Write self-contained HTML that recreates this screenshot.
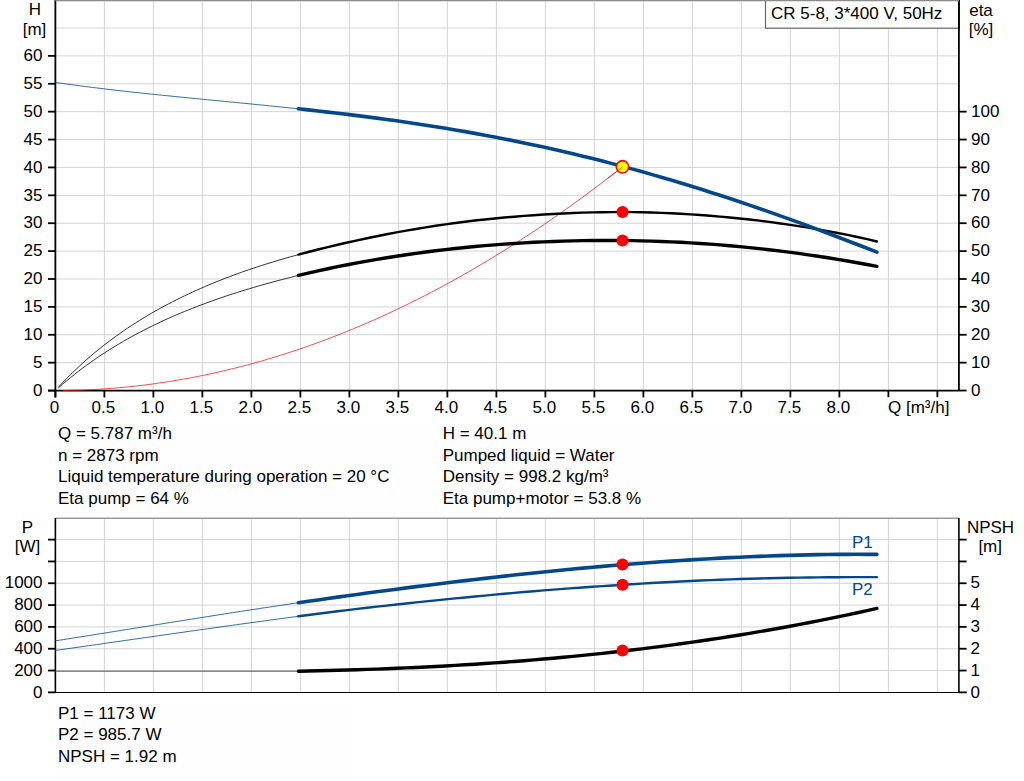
<!DOCTYPE html>
<html><head><meta charset="utf-8"><title>Pump curve</title>
<style>
html,body{margin:0;padding:0;background:#fff;width:1024px;height:781px;overflow:hidden}
svg{display:block}
text{font-family:"Liberation Sans", sans-serif;font-size:17px;fill:#000}
</style></head><body>
<svg width="1024" height="781" viewBox="0 0 1024 781">
<line x1="104.38" y1="0" x2="104.38" y2="390.55" stroke="#d3d4d8" stroke-width="1"/>
<line x1="153.38" y1="0" x2="153.38" y2="390.55" stroke="#d3d4d8" stroke-width="1"/>
<line x1="202.38" y1="0" x2="202.38" y2="390.55" stroke="#d3d4d8" stroke-width="1"/>
<line x1="251.38" y1="0" x2="251.38" y2="390.55" stroke="#d3d4d8" stroke-width="1"/>
<line x1="300.38" y1="0" x2="300.38" y2="390.55" stroke="#d3d4d8" stroke-width="1"/>
<line x1="349.38" y1="0" x2="349.38" y2="390.55" stroke="#d3d4d8" stroke-width="1"/>
<line x1="398.38" y1="0" x2="398.38" y2="390.55" stroke="#d3d4d8" stroke-width="1"/>
<line x1="447.38" y1="0" x2="447.38" y2="390.55" stroke="#d3d4d8" stroke-width="1"/>
<line x1="496.38" y1="0" x2="496.38" y2="390.55" stroke="#d3d4d8" stroke-width="1"/>
<line x1="545.38" y1="0" x2="545.38" y2="390.55" stroke="#d3d4d8" stroke-width="1"/>
<line x1="594.38" y1="0" x2="594.38" y2="390.55" stroke="#d3d4d8" stroke-width="1"/>
<line x1="643.38" y1="0" x2="643.38" y2="390.55" stroke="#d3d4d8" stroke-width="1"/>
<line x1="692.38" y1="0" x2="692.38" y2="390.55" stroke="#d3d4d8" stroke-width="1"/>
<line x1="741.38" y1="0" x2="741.38" y2="390.55" stroke="#d3d4d8" stroke-width="1"/>
<line x1="790.38" y1="0" x2="790.38" y2="390.55" stroke="#d3d4d8" stroke-width="1"/>
<line x1="839.38" y1="0" x2="839.38" y2="390.55" stroke="#d3d4d8" stroke-width="1"/>
<line x1="888.38" y1="0" x2="888.38" y2="390.55" stroke="#d3d4d8" stroke-width="1"/>
<line x1="937.38" y1="0" x2="937.38" y2="390.55" stroke="#d3d4d8" stroke-width="1"/>
<line x1="55.38" y1="362.66" x2="958.9" y2="362.66" stroke="#d3d4d8" stroke-width="1"/>
<line x1="55.38" y1="334.77" x2="958.9" y2="334.77" stroke="#d3d4d8" stroke-width="1"/>
<line x1="55.38" y1="306.88" x2="958.9" y2="306.88" stroke="#d3d4d8" stroke-width="1"/>
<line x1="55.38" y1="278.99" x2="958.9" y2="278.99" stroke="#d3d4d8" stroke-width="1"/>
<line x1="55.38" y1="251.10" x2="958.9" y2="251.10" stroke="#d3d4d8" stroke-width="1"/>
<line x1="55.38" y1="223.21" x2="958.9" y2="223.21" stroke="#d3d4d8" stroke-width="1"/>
<line x1="55.38" y1="195.32" x2="958.9" y2="195.32" stroke="#d3d4d8" stroke-width="1"/>
<line x1="55.38" y1="167.43" x2="958.9" y2="167.43" stroke="#d3d4d8" stroke-width="1"/>
<line x1="55.38" y1="139.54" x2="958.9" y2="139.54" stroke="#d3d4d8" stroke-width="1"/>
<line x1="55.38" y1="111.65" x2="958.9" y2="111.65" stroke="#d3d4d8" stroke-width="1"/>
<line x1="55.38" y1="83.76" x2="958.9" y2="83.76" stroke="#d3d4d8" stroke-width="1"/>
<line x1="55.38" y1="55.87" x2="958.9" y2="55.87" stroke="#d3d4d8" stroke-width="1"/>
<line x1="55.38" y1="27.98" x2="958.9" y2="27.98" stroke="#d3d4d8" stroke-width="1"/>
<line x1="55.38" y1="0" x2="55.38" y2="397.55" stroke="#000" stroke-width="1.8"/>
<line x1="958.9" y1="0" x2="958.9" y2="390.55" stroke="#000" stroke-width="1.8"/>
<line x1="48" y1="390.55" x2="958.9" y2="390.55" stroke="#000" stroke-width="1.8"/>
<line x1="48" y1="390.55" x2="55.38" y2="390.55" stroke="#000" stroke-width="1.8"/>
<text x="42.5" y="395.75" text-anchor="end">0</text>
<line x1="48" y1="362.66" x2="55.38" y2="362.66" stroke="#000" stroke-width="1.8"/>
<text x="42.5" y="367.86" text-anchor="end">5</text>
<line x1="48" y1="334.77" x2="55.38" y2="334.77" stroke="#000" stroke-width="1.8"/>
<text x="42.5" y="339.97" text-anchor="end">10</text>
<line x1="48" y1="306.88" x2="55.38" y2="306.88" stroke="#000" stroke-width="1.8"/>
<text x="42.5" y="312.08" text-anchor="end">15</text>
<line x1="48" y1="278.99" x2="55.38" y2="278.99" stroke="#000" stroke-width="1.8"/>
<text x="42.5" y="284.19" text-anchor="end">20</text>
<line x1="48" y1="251.10" x2="55.38" y2="251.10" stroke="#000" stroke-width="1.8"/>
<text x="42.5" y="256.30" text-anchor="end">25</text>
<line x1="48" y1="223.21" x2="55.38" y2="223.21" stroke="#000" stroke-width="1.8"/>
<text x="42.5" y="228.41" text-anchor="end">30</text>
<line x1="48" y1="195.32" x2="55.38" y2="195.32" stroke="#000" stroke-width="1.8"/>
<text x="42.5" y="200.52" text-anchor="end">35</text>
<line x1="48" y1="167.43" x2="55.38" y2="167.43" stroke="#000" stroke-width="1.8"/>
<text x="42.5" y="172.63" text-anchor="end">40</text>
<line x1="48" y1="139.54" x2="55.38" y2="139.54" stroke="#000" stroke-width="1.8"/>
<text x="42.5" y="144.74" text-anchor="end">45</text>
<line x1="48" y1="111.65" x2="55.38" y2="111.65" stroke="#000" stroke-width="1.8"/>
<text x="42.5" y="116.85" text-anchor="end">50</text>
<line x1="48" y1="83.76" x2="55.38" y2="83.76" stroke="#000" stroke-width="1.8"/>
<text x="42.5" y="88.96" text-anchor="end">55</text>
<line x1="48" y1="55.87" x2="55.38" y2="55.87" stroke="#000" stroke-width="1.8"/>
<text x="42.5" y="61.07" text-anchor="end">60</text>
<line x1="958.9" y1="390.55" x2="966.6" y2="390.55" stroke="#000" stroke-width="1.8"/>
<text x="971" y="395.75">0</text>
<line x1="958.9" y1="362.66" x2="966.6" y2="362.66" stroke="#000" stroke-width="1.8"/>
<text x="971" y="367.86">10</text>
<line x1="958.9" y1="334.77" x2="966.6" y2="334.77" stroke="#000" stroke-width="1.8"/>
<text x="971" y="339.97">20</text>
<line x1="958.9" y1="306.88" x2="966.6" y2="306.88" stroke="#000" stroke-width="1.8"/>
<text x="971" y="312.08">30</text>
<line x1="958.9" y1="278.99" x2="966.6" y2="278.99" stroke="#000" stroke-width="1.8"/>
<text x="971" y="284.19">40</text>
<line x1="958.9" y1="251.10" x2="966.6" y2="251.10" stroke="#000" stroke-width="1.8"/>
<text x="971" y="256.30">50</text>
<line x1="958.9" y1="223.21" x2="966.6" y2="223.21" stroke="#000" stroke-width="1.8"/>
<text x="971" y="228.41">60</text>
<line x1="958.9" y1="195.32" x2="966.6" y2="195.32" stroke="#000" stroke-width="1.8"/>
<text x="971" y="200.52">70</text>
<line x1="958.9" y1="167.43" x2="966.6" y2="167.43" stroke="#000" stroke-width="1.8"/>
<text x="971" y="172.63">80</text>
<line x1="958.9" y1="139.54" x2="966.6" y2="139.54" stroke="#000" stroke-width="1.8"/>
<text x="971" y="144.74">90</text>
<line x1="958.9" y1="111.65" x2="966.6" y2="111.65" stroke="#000" stroke-width="1.8"/>
<text x="971" y="116.85">100</text>
<line x1="55.38" y1="390.55" x2="55.38" y2="397.4" stroke="#000" stroke-width="1.8"/>
<text x="54.38" y="413" text-anchor="middle">0</text>
<line x1="104.38" y1="390.55" x2="104.38" y2="397.4" stroke="#000" stroke-width="1.8"/>
<text x="103.38" y="413" text-anchor="middle">0.5</text>
<line x1="153.38" y1="390.55" x2="153.38" y2="397.4" stroke="#000" stroke-width="1.8"/>
<text x="152.38" y="413" text-anchor="middle">1.0</text>
<line x1="202.38" y1="390.55" x2="202.38" y2="397.4" stroke="#000" stroke-width="1.8"/>
<text x="201.38" y="413" text-anchor="middle">1.5</text>
<line x1="251.38" y1="390.55" x2="251.38" y2="397.4" stroke="#000" stroke-width="1.8"/>
<text x="250.38" y="413" text-anchor="middle">2.0</text>
<line x1="300.38" y1="390.55" x2="300.38" y2="397.4" stroke="#000" stroke-width="1.8"/>
<text x="299.38" y="413" text-anchor="middle">2.5</text>
<line x1="349.38" y1="390.55" x2="349.38" y2="397.4" stroke="#000" stroke-width="1.8"/>
<text x="348.38" y="413" text-anchor="middle">3.0</text>
<line x1="398.38" y1="390.55" x2="398.38" y2="397.4" stroke="#000" stroke-width="1.8"/>
<text x="397.38" y="413" text-anchor="middle">3.5</text>
<line x1="447.38" y1="390.55" x2="447.38" y2="397.4" stroke="#000" stroke-width="1.8"/>
<text x="446.38" y="413" text-anchor="middle">4.0</text>
<line x1="496.38" y1="390.55" x2="496.38" y2="397.4" stroke="#000" stroke-width="1.8"/>
<text x="495.38" y="413" text-anchor="middle">4.5</text>
<line x1="545.38" y1="390.55" x2="545.38" y2="397.4" stroke="#000" stroke-width="1.8"/>
<text x="544.38" y="413" text-anchor="middle">5.0</text>
<line x1="594.38" y1="390.55" x2="594.38" y2="397.4" stroke="#000" stroke-width="1.8"/>
<text x="593.38" y="413" text-anchor="middle">5.5</text>
<line x1="643.38" y1="390.55" x2="643.38" y2="397.4" stroke="#000" stroke-width="1.8"/>
<text x="642.38" y="413" text-anchor="middle">6.0</text>
<line x1="692.38" y1="390.55" x2="692.38" y2="397.4" stroke="#000" stroke-width="1.8"/>
<text x="691.38" y="413" text-anchor="middle">6.5</text>
<line x1="741.38" y1="390.55" x2="741.38" y2="397.4" stroke="#000" stroke-width="1.8"/>
<text x="740.38" y="413" text-anchor="middle">7.0</text>
<line x1="790.38" y1="390.55" x2="790.38" y2="397.4" stroke="#000" stroke-width="1.8"/>
<text x="789.38" y="413" text-anchor="middle">7.5</text>
<line x1="839.38" y1="390.55" x2="839.38" y2="397.4" stroke="#000" stroke-width="1.8"/>
<text x="838.38" y="413" text-anchor="middle">8.0</text>
<line x1="888.38" y1="390.55" x2="888.38" y2="397.4" stroke="#000" stroke-width="1.8"/>
<line x1="937.38" y1="390.55" x2="937.38" y2="397.4" stroke="#000" stroke-width="1.8"/>
<rect x="886" y="397.5" width="70" height="21" fill="#fefefe"/>
<text x="888" y="413">Q [m³/h]</text>
<text x="35" y="15.3" text-anchor="middle">H</text>
<text x="34.5" y="34.5" text-anchor="middle">[m]</text>
<text x="981" y="15.7" text-anchor="middle">eta</text>
<text x="981" y="34.5" text-anchor="middle">[%]</text>
<rect x="765.5" y="-1" width="193.40" height="29.2" fill="#fff" stroke="#666" stroke-width="1.2"/>
<line x1="958.9" y1="0" x2="958.9" y2="30" stroke="#000" stroke-width="1.8"/>
<text x="771" y="19">CR 5-8, 3*400 V, 50Hz</text>
<line x1="55.38" y1="0.5" x2="958.9" y2="0.5" stroke="#8c8c8c" stroke-width="1.5"/>
<path d="M63.22,390.51 L70.30,390.40 L77.38,390.21 L84.46,389.96 L91.54,389.64 L98.62,389.25 L105.70,388.79 L112.78,388.26 L119.86,387.66 L126.94,386.99 L134.02,386.25 L141.10,385.44 L148.17,384.56 L155.25,383.61 L162.33,382.59 L169.41,381.51 L176.49,380.35 L183.57,379.12 L190.65,377.82 L197.73,376.46 L204.81,375.02 L211.89,373.51 L218.97,371.94 L226.05,370.29 L233.13,368.58 L240.21,366.79 L247.29,364.94 L254.37,363.01 L261.45,361.02 L268.53,358.95 L275.61,356.82 L282.69,354.62 L289.77,352.34 L296.85,350.00 L303.93,347.59 L311.00,345.11 L318.08,342.55 L325.16,339.93 L332.24,337.24 L339.32,334.48 L346.40,331.65 L353.48,328.75 L360.56,325.78 L367.64,322.74 L374.72,319.63 L381.80,316.45 L388.88,313.20 L395.96,309.88 L403.04,306.49 L410.12,303.04 L417.20,299.51 L424.28,295.91 L431.36,292.24 L438.44,288.51 L445.52,284.70 L452.60,280.82 L459.68,276.88 L466.76,272.86 L473.84,268.77 L480.91,264.62 L487.99,260.39 L495.07,256.10 L502.15,251.73 L509.23,247.30 L516.31,242.80 L523.39,238.22 L530.47,233.58 L537.55,228.87 L544.63,224.08 L551.71,219.23 L558.79,214.31 L565.87,209.32 L572.95,204.26 L580.03,199.12 L587.11,193.92 L594.19,188.65 L601.27,183.31 L608.35,177.90 L615.43,172.42 L622.51,166.87" fill="none" stroke="#ff1010" stroke-width="0.75"/>
<path d="M58.32,387.32 L62.39,382.97 L66.46,378.76 L70.53,374.67 L74.60,370.70 L78.67,366.85 L82.74,363.10 L86.81,359.47 L90.88,355.94 L94.95,352.51 L99.01,349.17 L103.08,345.92 L107.15,342.76 L111.22,339.69 L115.29,336.70 L119.36,333.79 L123.43,330.95 L127.50,328.18 L131.57,325.49 L135.64,322.86 L139.71,320.30 L143.78,317.80 L147.85,315.36 L151.92,312.98 L155.99,310.66 L160.06,308.40 L164.13,306.18 L168.20,304.02 L172.27,301.91 L176.34,299.84 L180.40,297.83 L184.47,295.85 L188.54,293.93 L192.61,292.04 L196.68,290.20 L200.75,288.39 L204.82,286.63 L208.89,284.90 L212.96,283.21 L217.03,281.55 L221.10,279.93 L225.17,278.34 L229.24,276.79 L233.31,275.27 L237.38,273.78 L241.45,272.32 L245.52,270.88 L249.59,269.48 L253.66,268.11 L257.73,266.76 L261.79,265.44 L265.86,264.15 L269.93,262.88 L274.00,261.63 L278.07,260.41 L282.14,259.21 L286.21,258.03 L290.28,256.87 L294.35,255.74 L298.42,254.62" fill="none" stroke="#333" stroke-width="1"/>
<path d="M298.42,254.62 L308.22,252.01 L318.03,249.50 L327.83,247.09 L337.64,244.76 L347.44,242.52 L357.25,240.35 L367.05,238.26 L376.86,236.24 L386.66,234.30 L396.47,232.43 L406.27,230.65 L416.08,228.95 L425.88,227.33 L435.69,225.80 L445.49,224.35 L455.30,223.00 L465.10,221.74 L474.91,220.56 L484.71,219.47 L494.52,218.46 L504.32,217.53 L514.13,216.68 L523.93,215.89 L533.74,215.18 L543.54,214.54 L553.35,213.96 L563.15,213.46 L572.96,213.03 L582.76,212.67 L592.57,212.39 L602.37,212.19 L612.18,212.08 L621.98,212.05 L631.79,212.12 L641.59,212.27 L651.40,212.52 L661.20,212.85 L671.01,213.27 L680.81,213.77 L690.62,214.35 L700.42,215.02 L710.23,215.77 L720.03,216.59 L729.84,217.50 L739.64,218.48 L749.45,219.54 L759.25,220.68 L769.06,221.90 L778.86,223.21 L788.67,224.60 L798.47,226.08 L808.28,227.66 L818.08,229.33 L827.89,231.10 L837.69,232.97 L847.50,234.94 L857.30,237.02 L867.11,239.20 L876.91,241.48" fill="none" stroke="#000" stroke-width="2.4" stroke-linecap="round"/>
<path d="M58.32,387.93 L62.39,384.39 L66.46,380.94 L70.53,377.59 L74.60,374.34 L78.67,371.17 L82.74,368.08 L86.81,365.08 L90.88,362.15 L94.95,359.30 L99.01,356.53 L103.08,353.83 L107.15,351.19 L111.22,348.62 L115.29,346.12 L119.36,343.68 L123.43,341.29 L127.50,338.97 L131.57,336.70 L135.64,334.48 L139.71,332.32 L143.78,330.20 L147.85,328.14 L151.92,326.12 L155.99,324.15 L160.06,322.22 L164.13,320.34 L168.20,318.49 L172.27,316.69 L176.34,314.93 L180.40,313.20 L184.47,311.51 L188.54,309.86 L192.61,308.24 L196.68,306.65 L200.75,305.09 L204.82,303.57 L208.89,302.08 L212.96,300.61 L217.03,299.18 L221.10,297.77 L225.17,296.39 L229.24,295.04 L233.31,293.71 L237.38,292.41 L241.45,291.13 L245.52,289.87 L249.59,288.64 L253.66,287.43 L257.73,286.24 L261.79,285.07 L265.86,283.92 L269.93,282.80 L274.00,281.69 L278.07,280.60 L282.14,279.54 L286.21,278.49 L290.28,277.46 L294.35,276.44 L298.42,275.45" fill="none" stroke="#333" stroke-width="1"/>
<path d="M298.42,275.45 L308.22,273.12 L318.03,270.89 L327.83,268.76 L337.64,266.71 L347.44,264.76 L357.25,262.89 L367.05,261.10 L376.86,259.40 L386.66,257.77 L396.47,256.22 L406.27,254.75 L416.08,253.36 L425.88,252.04 L435.69,250.80 L445.49,249.63 L455.30,248.53 L465.10,247.51 L474.91,246.56 L484.71,245.67 L494.52,244.86 L504.32,244.12 L514.13,243.45 L523.93,242.84 L533.74,242.30 L543.54,241.83 L553.35,241.43 L563.15,241.10 L572.96,240.83 L582.76,240.63 L592.57,240.50 L602.37,240.43 L612.18,240.43 L621.98,240.50 L631.79,240.63 L641.59,240.83 L651.40,241.10 L661.20,241.43 L671.01,241.84 L680.81,242.31 L690.62,242.85 L700.42,243.46 L710.23,244.14 L720.03,244.89 L729.84,245.71 L739.64,246.61 L749.45,247.57 L759.25,248.60 L769.06,249.71 L778.86,250.88 L788.67,252.12 L798.47,253.43 L808.28,254.81 L818.08,256.26 L827.89,257.77 L837.69,259.35 L847.50,260.99 L857.30,262.71 L867.11,264.48 L876.91,266.32" fill="none" stroke="#000" stroke-width="3.4" stroke-linecap="round"/>
<path d="M55.38,82.41 L59.50,83.01 L63.62,83.59 L67.74,84.17 L71.86,84.73 L75.98,85.29 L80.10,85.83 L84.22,86.37 L88.33,86.90 L92.45,87.42 L96.57,87.93 L100.69,88.43 L104.81,88.93 L108.93,89.42 L113.05,89.90 L117.17,90.38 L121.29,90.85 L125.41,91.31 L129.53,91.77 L133.65,92.22 L137.77,92.67 L141.89,93.11 L146.01,93.55 L150.12,93.98 L154.24,94.41 L158.36,94.84 L162.48,95.26 L166.60,95.68 L170.72,96.10 L174.84,96.51 L178.96,96.92 L183.08,97.33 L187.20,97.74 L191.32,98.15 L195.44,98.55 L199.56,98.95 L203.68,99.35 L207.79,99.76 L211.91,100.16 L216.03,100.56 L220.15,100.96 L224.27,101.36 L228.39,101.76 L232.51,102.16 L236.63,102.56 L240.75,102.96 L244.87,103.37 L248.99,103.77 L253.11,104.18 L257.23,104.59 L261.35,105.00 L265.47,105.41 L269.58,105.83 L273.70,106.25 L277.82,106.67 L281.94,107.10 L286.06,107.52 L290.18,107.96 L294.30,108.39 L298.42,108.83" fill="none" stroke="#04478a" stroke-width="1" stroke-opacity="0.8"/>
<path d="M298.42,108.83 L308.22,109.89 L318.03,110.98 L327.83,112.09 L337.64,113.23 L347.44,114.41 L357.25,115.61 L367.05,116.86 L376.86,118.14 L386.66,119.46 L396.47,120.82 L406.27,122.22 L416.08,123.67 L425.88,125.17 L435.69,126.71 L445.49,128.30 L455.30,129.93 L465.10,131.62 L474.91,133.37 L484.71,135.16 L494.52,137.01 L504.32,138.91 L514.13,140.87 L523.93,142.89 L533.74,144.96 L543.54,147.09 L553.35,149.27 L563.15,151.52 L572.96,153.82 L582.76,156.18 L592.57,158.60 L602.37,161.08 L612.18,163.62 L621.98,166.22 L631.79,168.87 L641.59,171.59 L651.40,174.36 L661.20,177.19 L671.01,180.07 L680.81,183.01 L690.62,186.01 L700.42,189.06 L710.23,192.17 L720.03,195.33 L729.84,198.54 L739.64,201.81 L749.45,205.12 L759.25,208.48 L769.06,211.89 L778.86,215.35 L788.67,218.85 L798.47,222.39 L808.28,225.98 L818.08,229.60 L827.89,233.27 L837.69,236.97 L847.50,240.70 L857.30,244.47 L867.11,248.26 L876.91,252.09" fill="none" stroke="#04478a" stroke-width="3.6" stroke-linecap="round"/>
<circle cx="622.51" cy="212.05" r="6" fill="#ff0000"/>
<circle cx="622.51" cy="240.50" r="6" fill="#ff0000"/>
<circle cx="622.51" cy="166.87" r="6.2" fill="#ffff00" stroke="#ff0000" stroke-width="1.6"/>
<path d="M607.81,178.32 L611.48,175.48 L615.16,172.63 L618.83,169.76 L622.51,166.87" fill="none" stroke="#ff1010" stroke-width="0.75"/>
<rect x="55" y="423.5" width="790" height="93.5" fill="#fefefe"/>
<text x="58" y="439.0">Q = 5.787 m³/h</text>
<text x="58" y="460.5">n = 2873 rpm</text>
<text x="58" y="482.0">Liquid temperature during operation = 20 °C</text>
<text x="58" y="503.5">Eta pump = 64 %</text>
<text x="442.7" y="439.0">H = 40.1 m</text>
<text x="442.7" y="460.5">Pumped liquid = Water</text>
<text x="442.7" y="482.0">Density = 998.2 kg/m³</text>
<text x="442.7" y="503.5">Eta pump+motor = 53.8 %</text>
<line x1="104.38" y1="518.0" x2="104.38" y2="692.36" stroke="#d3d4d8" stroke-width="1"/>
<line x1="153.38" y1="518.0" x2="153.38" y2="692.36" stroke="#d3d4d8" stroke-width="1"/>
<line x1="202.38" y1="518.0" x2="202.38" y2="692.36" stroke="#d3d4d8" stroke-width="1"/>
<line x1="251.38" y1="518.0" x2="251.38" y2="692.36" stroke="#d3d4d8" stroke-width="1"/>
<line x1="300.38" y1="518.0" x2="300.38" y2="692.36" stroke="#d3d4d8" stroke-width="1"/>
<line x1="349.38" y1="518.0" x2="349.38" y2="692.36" stroke="#d3d4d8" stroke-width="1"/>
<line x1="398.38" y1="518.0" x2="398.38" y2="692.36" stroke="#d3d4d8" stroke-width="1"/>
<line x1="447.38" y1="518.0" x2="447.38" y2="692.36" stroke="#d3d4d8" stroke-width="1"/>
<line x1="496.38" y1="518.0" x2="496.38" y2="692.36" stroke="#d3d4d8" stroke-width="1"/>
<line x1="545.38" y1="518.0" x2="545.38" y2="692.36" stroke="#d3d4d8" stroke-width="1"/>
<line x1="594.38" y1="518.0" x2="594.38" y2="692.36" stroke="#d3d4d8" stroke-width="1"/>
<line x1="643.38" y1="518.0" x2="643.38" y2="692.36" stroke="#d3d4d8" stroke-width="1"/>
<line x1="692.38" y1="518.0" x2="692.38" y2="692.36" stroke="#d3d4d8" stroke-width="1"/>
<line x1="741.38" y1="518.0" x2="741.38" y2="692.36" stroke="#d3d4d8" stroke-width="1"/>
<line x1="790.38" y1="518.0" x2="790.38" y2="692.36" stroke="#d3d4d8" stroke-width="1"/>
<line x1="839.38" y1="518.0" x2="839.38" y2="692.36" stroke="#d3d4d8" stroke-width="1"/>
<line x1="888.38" y1="518.0" x2="888.38" y2="692.36" stroke="#d3d4d8" stroke-width="1"/>
<line x1="937.38" y1="518.0" x2="937.38" y2="692.36" stroke="#d3d4d8" stroke-width="1"/>
<line x1="55.38" y1="670.54" x2="958.9" y2="670.54" stroke="#d3d4d8" stroke-width="1"/>
<line x1="55.38" y1="648.72" x2="958.9" y2="648.72" stroke="#d3d4d8" stroke-width="1"/>
<line x1="55.38" y1="626.90" x2="958.9" y2="626.90" stroke="#d3d4d8" stroke-width="1"/>
<line x1="55.38" y1="605.08" x2="958.9" y2="605.08" stroke="#d3d4d8" stroke-width="1"/>
<line x1="55.38" y1="583.26" x2="958.9" y2="583.26" stroke="#d3d4d8" stroke-width="1"/>
<line x1="55.38" y1="561.44" x2="958.9" y2="561.44" stroke="#d3d4d8" stroke-width="1"/>
<line x1="55.38" y1="539.62" x2="958.9" y2="539.62" stroke="#d3d4d8" stroke-width="1"/>
<line x1="55.38" y1="518.2" x2="958.9" y2="518.2" stroke="#999" stroke-width="1.5"/>
<line x1="55.38" y1="518.0" x2="55.38" y2="692.36" stroke="#000" stroke-width="1.6"/>
<line x1="958.9" y1="518.0" x2="958.9" y2="692.36" stroke="#000" stroke-width="1.6"/>
<line x1="48" y1="692.5" x2="966.6" y2="692.5" stroke="#000" stroke-width="1.1"/>
<line x1="48" y1="692.36" x2="55.38" y2="692.36" stroke="#000" stroke-width="1.8"/>
<line x1="958.9" y1="692.36" x2="966.6" y2="692.36" stroke="#000" stroke-width="1.8"/>
<text x="42.5" y="697.56" text-anchor="end">0</text>
<text x="970.5" y="697.56">0</text>
<line x1="48" y1="670.54" x2="55.38" y2="670.54" stroke="#000" stroke-width="1.8"/>
<line x1="958.9" y1="670.54" x2="966.6" y2="670.54" stroke="#000" stroke-width="1.8"/>
<text x="42.5" y="675.74" text-anchor="end">200</text>
<text x="970.5" y="675.74">1</text>
<line x1="48" y1="648.72" x2="55.38" y2="648.72" stroke="#000" stroke-width="1.8"/>
<line x1="958.9" y1="648.72" x2="966.6" y2="648.72" stroke="#000" stroke-width="1.8"/>
<text x="42.5" y="653.92" text-anchor="end">400</text>
<text x="970.5" y="653.92">2</text>
<line x1="48" y1="626.90" x2="55.38" y2="626.90" stroke="#000" stroke-width="1.8"/>
<line x1="958.9" y1="626.90" x2="966.6" y2="626.90" stroke="#000" stroke-width="1.8"/>
<text x="42.5" y="632.10" text-anchor="end">600</text>
<text x="970.5" y="632.10">3</text>
<line x1="48" y1="605.08" x2="55.38" y2="605.08" stroke="#000" stroke-width="1.8"/>
<line x1="958.9" y1="605.08" x2="966.6" y2="605.08" stroke="#000" stroke-width="1.8"/>
<text x="42.5" y="610.28" text-anchor="end">800</text>
<text x="970.5" y="610.28">4</text>
<line x1="48" y1="583.26" x2="55.38" y2="583.26" stroke="#000" stroke-width="1.8"/>
<line x1="958.9" y1="583.26" x2="966.6" y2="583.26" stroke="#000" stroke-width="1.8"/>
<text x="42.5" y="588.46" text-anchor="end">1000</text>
<text x="970.5" y="588.46">5</text>
<line x1="48" y1="561.44" x2="55.38" y2="561.44" stroke="#000" stroke-width="1.8"/>
<line x1="958.9" y1="561.44" x2="966.6" y2="561.44" stroke="#000" stroke-width="1.8"/>
<line x1="48" y1="539.62" x2="55.38" y2="539.62" stroke="#000" stroke-width="1.8"/>
<line x1="958.9" y1="539.62" x2="966.6" y2="539.62" stroke="#000" stroke-width="1.8"/>
<text x="27.3" y="533" text-anchor="middle">P</text>
<text x="27.5" y="552" text-anchor="middle">[W]</text>
<text x="990.5" y="533" text-anchor="middle">NPSH</text>
<text x="990.2" y="551.5" text-anchor="middle">[m]</text>
<line x1="55.38" y1="671.19" x2="298.42" y2="671.19" stroke="#555" stroke-width="1"/>
<path d="M298.42,671.19 L308.22,671.00 L318.03,670.79 L327.83,670.56 L337.64,670.31 L347.44,670.04 L357.25,669.74 L367.05,669.42 L376.86,669.08 L386.66,668.71 L396.47,668.31 L406.27,667.89 L416.08,667.45 L425.88,666.98 L435.69,666.48 L445.49,665.95 L455.30,665.40 L465.10,664.81 L474.91,664.20 L484.71,663.56 L494.52,662.89 L504.32,662.18 L514.13,661.45 L523.93,660.69 L533.74,659.89 L543.54,659.06 L553.35,658.20 L563.15,657.30 L572.96,656.37 L582.76,655.40 L592.57,654.41 L602.37,653.37 L612.18,652.30 L621.98,651.20 L631.79,650.05 L641.59,648.87 L651.40,647.66 L661.20,646.40 L671.01,645.11 L680.81,643.78 L690.62,642.41 L700.42,641.00 L710.23,639.55 L720.03,638.06 L729.84,636.53 L739.64,634.96 L749.45,633.35 L759.25,631.69 L769.06,630.00 L778.86,628.26 L788.67,626.48 L798.47,624.65 L808.28,622.78 L818.08,620.86 L827.89,618.91 L837.69,616.90 L847.50,614.85 L857.30,612.75 L867.11,610.61 L876.91,608.42" fill="none" stroke="#000" stroke-width="3.4" stroke-linecap="round"/>
<path d="M55.38,650.45 L59.50,649.86 L63.62,649.27 L67.74,648.69 L71.86,648.10 L75.98,647.51 L80.10,646.93 L84.22,646.34 L88.33,645.75 L92.45,645.16 L96.57,644.57 L100.69,643.98 L104.81,643.39 L108.93,642.80 L113.05,642.21 L117.17,641.63 L121.29,641.04 L125.41,640.45 L129.53,639.86 L133.65,639.27 L137.77,638.68 L141.89,638.09 L146.01,637.50 L150.12,636.92 L154.24,636.33 L158.36,635.74 L162.48,635.15 L166.60,634.57 L170.72,633.98 L174.84,633.40 L178.96,632.81 L183.08,632.23 L187.20,631.64 L191.32,631.06 L195.44,630.48 L199.56,629.90 L203.68,629.32 L207.79,628.74 L211.91,628.16 L216.03,627.58 L220.15,627.00 L224.27,626.43 L228.39,625.85 L232.51,625.28 L236.63,624.70 L240.75,624.13 L244.87,623.56 L248.99,622.99 L253.11,622.42 L257.23,621.86 L261.35,621.29 L265.47,620.73 L269.58,620.17 L273.70,619.61 L277.82,619.05 L281.94,618.49 L286.06,617.94 L290.18,617.39 L294.30,616.84 L298.42,616.30" fill="none" stroke="#04478a" stroke-width="1" stroke-opacity="0.8"/>
<path d="M298.42,616.30 L308.22,615.01 L318.03,613.75 L327.83,612.51 L337.64,611.28 L347.44,610.09 L357.25,608.92 L367.05,607.78 L376.86,606.66 L386.66,605.57 L396.47,604.50 L406.27,603.45 L416.08,602.41 L425.88,601.40 L435.69,600.39 L445.49,599.40 L455.30,598.43 L465.10,597.46 L474.91,596.51 L484.71,595.58 L494.52,594.66 L504.32,593.76 L514.13,592.89 L523.93,592.03 L533.74,591.20 L543.54,590.40 L553.35,589.62 L563.15,588.87 L572.96,588.14 L582.76,587.44 L592.57,586.76 L602.37,586.09 L612.18,585.45 L621.98,584.83 L631.79,584.23 L641.59,583.64 L651.40,583.07 L661.20,582.52 L671.01,581.99 L680.81,581.49 L690.62,581.01 L700.42,580.55 L710.23,580.13 L720.03,579.73 L729.84,579.36 L739.64,579.02 L749.45,578.72 L759.25,578.44 L769.06,578.20 L778.86,577.98 L788.67,577.79 L798.47,577.63 L808.28,577.50 L818.08,577.38 L827.89,577.29 L837.69,577.22 L847.50,577.17 L857.30,577.14 L867.11,577.13 L876.91,577.13" fill="none" stroke="#04478a" stroke-width="2.4" stroke-linecap="round"/>
<path d="M55.38,640.84 L59.50,640.20 L63.62,639.55 L67.74,638.91 L71.86,638.26 L75.98,637.61 L80.10,636.95 L84.22,636.30 L88.33,635.65 L92.45,634.99 L96.57,634.33 L100.69,633.68 L104.81,633.02 L108.93,632.36 L113.05,631.70 L117.17,631.04 L121.29,630.38 L125.41,629.72 L129.53,629.06 L133.65,628.39 L137.77,627.73 L141.89,627.07 L146.01,626.41 L150.12,625.75 L154.24,625.09 L158.36,624.43 L162.48,623.76 L166.60,623.10 L170.72,622.45 L174.84,621.79 L178.96,621.13 L183.08,620.47 L187.20,619.81 L191.32,619.16 L195.44,618.51 L199.56,617.85 L203.68,617.20 L207.79,616.55 L211.91,615.90 L216.03,615.25 L220.15,614.61 L224.27,613.96 L228.39,613.32 L232.51,612.68 L236.63,612.04 L240.75,611.41 L244.87,610.77 L248.99,610.14 L253.11,609.51 L257.23,608.88 L261.35,608.26 L265.47,607.64 L269.58,607.02 L273.70,606.40 L277.82,605.79 L281.94,605.17 L286.06,604.56 L290.18,603.95 L294.30,603.35 L298.42,602.75" fill="none" stroke="#04478a" stroke-width="1" stroke-opacity="0.8"/>
<path d="M298.42,602.75 L308.22,601.32 L318.03,599.91 L327.83,598.52 L337.64,597.14 L347.44,595.77 L357.25,594.42 L367.05,593.09 L376.86,591.77 L386.66,590.47 L396.47,589.18 L406.27,587.91 L416.08,586.65 L425.88,585.42 L435.69,584.19 L445.49,582.99 L455.30,581.80 L465.10,580.63 L474.91,579.48 L484.71,578.34 L494.52,577.23 L504.32,576.14 L514.13,575.06 L523.93,574.01 L533.74,572.98 L543.54,571.97 L553.35,570.98 L563.15,570.01 L572.96,569.07 L582.76,568.16 L592.57,567.27 L602.37,566.40 L612.18,565.56 L621.98,564.75 L631.79,563.96 L641.59,563.21 L651.40,562.47 L661.20,561.77 L671.01,561.10 L680.81,560.45 L690.62,559.84 L700.42,559.25 L710.23,558.69 L720.03,558.16 L729.84,557.66 L739.64,557.20 L749.45,556.76 L759.25,556.35 L769.06,555.98 L778.86,555.64 L788.67,555.34 L798.47,555.08 L808.28,554.85 L818.08,554.66 L827.89,554.51 L837.69,554.40 L847.50,554.34 L857.30,554.32 L867.11,554.34 L876.91,554.42" fill="none" stroke="#04478a" stroke-width="3.6" stroke-linecap="round"/>
<circle cx="622.51" cy="564.39" r="6" fill="#ff0000"/>
<circle cx="622.51" cy="584.82" r="6" fill="#ff0000"/>
<circle cx="622.51" cy="650.47" r="6" fill="#ff0000"/>
<text x="852" y="548" style="fill:#04478a">P1</text>
<text x="852" y="595" style="fill:#04478a">P2</text>
<rect x="55" y="702.5" width="300" height="78.5" fill="#fefefe"/>
<text x="58" y="719.00">P1 = 1173 W</text>
<text x="58" y="740.25">P2 = 985.7 W</text>
<text x="58" y="761.50">NPSH = 1.92 m</text>
</svg>
</body></html>
